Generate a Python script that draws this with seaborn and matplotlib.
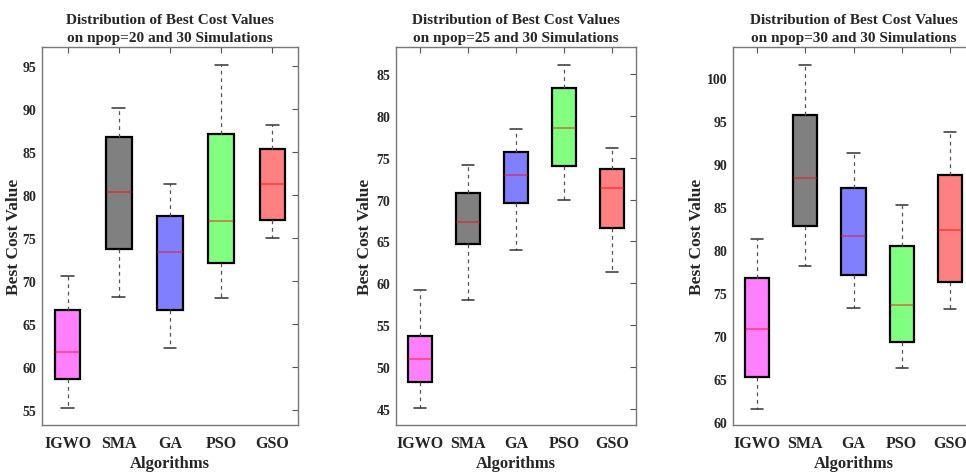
import numpy as np
import pandas as pd
import matplotlib
matplotlib.use("Agg")
import matplotlib.pyplot as plt
import seaborn as sns

algorithms = ["IGWO", "SMA", "GA", "PSO", "GSO"]
box_colors = ["#FF80FF", "#808080", "#8080FF", "#80FF80", "#FF8080"]

# npop = 20
p20_low = [55.2, 68.1, 62.2, 68.0, 75.0]
p20_q1 = [58.5, 73.7, 66.6, 72.0, 77.1]
p20_med = [61.75, 80.3, 73.3, 77.0, 81.2]
p20_q3 = [66.6, 86.7, 77.5, 87.1, 85.3]
p20_high = [70.5, 90.1, 81.3, 95.1, 88.1]

# npop = 25
p25_low = [45.1, 58.0, 64.0, 70.0, 61.4]
p25_q1 = [48.25, 64.7, 69.6, 74.0, 66.6]
p25_med = [51.0, 67.3, 72.9, 78.5, 71.4]
p25_q3 = [53.7, 70.8, 75.7, 83.25, 73.7]
p25_high = [59.15, 74.1, 78.4, 86.1, 76.1]

# npop = 30
p30_low = [61.5, 78.1, 73.2, 66.2, 73.1]
p30_q1 = [65.2, 82.8, 77.1, 69.3, 76.2]
p30_med = [70.8, 88.3, 81.6, 73.6, 82.3]
p30_q3 = [76.7, 95.7, 87.2, 80.4, 88.7]
p30_high = [81.3, 101.5, 91.3, 85.2, 93.7]

panels = [
    ("Distribution of Best Cost Values\non npop=20 and 30 Simulations",
     (p20_low, p20_q1, p20_med, p20_q3, p20_high), (53.2, 97.2), [55, 60, 65, 70, 75, 80, 85, 90, 95]),
    ("Distribution of Best Cost Values\non npop=25 and 30 Simulations",
     (p25_low, p25_q1, p25_med, p25_q3, p25_high), (43.1, 88.2), [45, 50, 55, 60, 65, 70, 75, 80, 85]),
    ("Distribution of Best Cost Values\non npop=30 and 30 Simulations",
     (p30_low, p30_q1, p30_med, p30_q3, p30_high), (59.6, 103.6), [60, 65, 70, 75, 80, 85, 90, 95, 100]),
]

sns.set_theme(style="white")
plt.rcParams["font.family"] = ["Liberation Serif", "DejaVu Serif"]
plt.rcParams["font.weight"] = "bold"

W, H = 966, 477
fig = plt.figure(figsize=(W / 100, H / 100), dpi=100)
positions_px = [(42, 256, 22), (396, 240, 373), (733, 241, 705)]
top_px, bottom_px = 48, 426

for (title, stats, ylim, yticks), (lx, wx, lab_x) in zip(panels, positions_px):
    ax = fig.add_axes([lx / W, (H - bottom_px) / H, wx / W, (bottom_px - top_px) / H])
    rows = []
    for i, alg in enumerate(algorithms):
        for arr in stats:
            rows.append({"Algorithm": alg, "Value": arr[i]})
    df = pd.DataFrame(rows)
    sns.boxplot(
        data=df, x="Algorithm", y="Value", hue="Algorithm", palette=box_colors,
        order=algorithms, hue_order=algorithms, width=0.5, whis=(0, 100),
        saturation=1, linecolor="black", linewidth=1.6, legend=False,
        showfliers=False, ax=ax,
        medianprops=dict(color="red", alpha=0.5, linewidth=1.2),
        whiskerprops=dict(color="#555555", linestyle=(0, (3, 3)), linewidth=0.9),
        capprops=dict(color="#333333", linewidth=1.1),
    )
    ax.set_xlim(-0.5, 4.5)
    ax.set_ylim(*ylim)
    ax.set_yticks(yticks)
    ax.set_yticklabels([str(t) for t in yticks], fontsize=10, fontweight="bold")
    ax.set_xticks(range(5))
    ax.set_xticklabels(algorithms, fontsize=11.5, fontweight="bold")
    ax.tick_params(axis="y", direction="in", right=True, length=4, width=0.8,
                   color="#555555", pad=4)
    ax.tick_params(axis="x", direction="in", top=True, length=4, width=0.8,
                   color="#555555", pad=7)
    for s in ax.spines.values():
        s.set_color("#777777")
        s.set_linewidth(1.0)
    ax.set_title(title, fontsize=11, fontweight="bold", pad=4, linespacing=1.55)
    ax.set_xlabel("Algorithms", fontsize=12, fontweight="bold", labelpad=3)
    ax.set_ylabel("Best Cost Value", fontsize=12.5, fontweight="bold")
    ax.yaxis.set_label_coords((lab_x - lx) / wx, 0.5)

fig.savefig("out.png", dpi=100)
